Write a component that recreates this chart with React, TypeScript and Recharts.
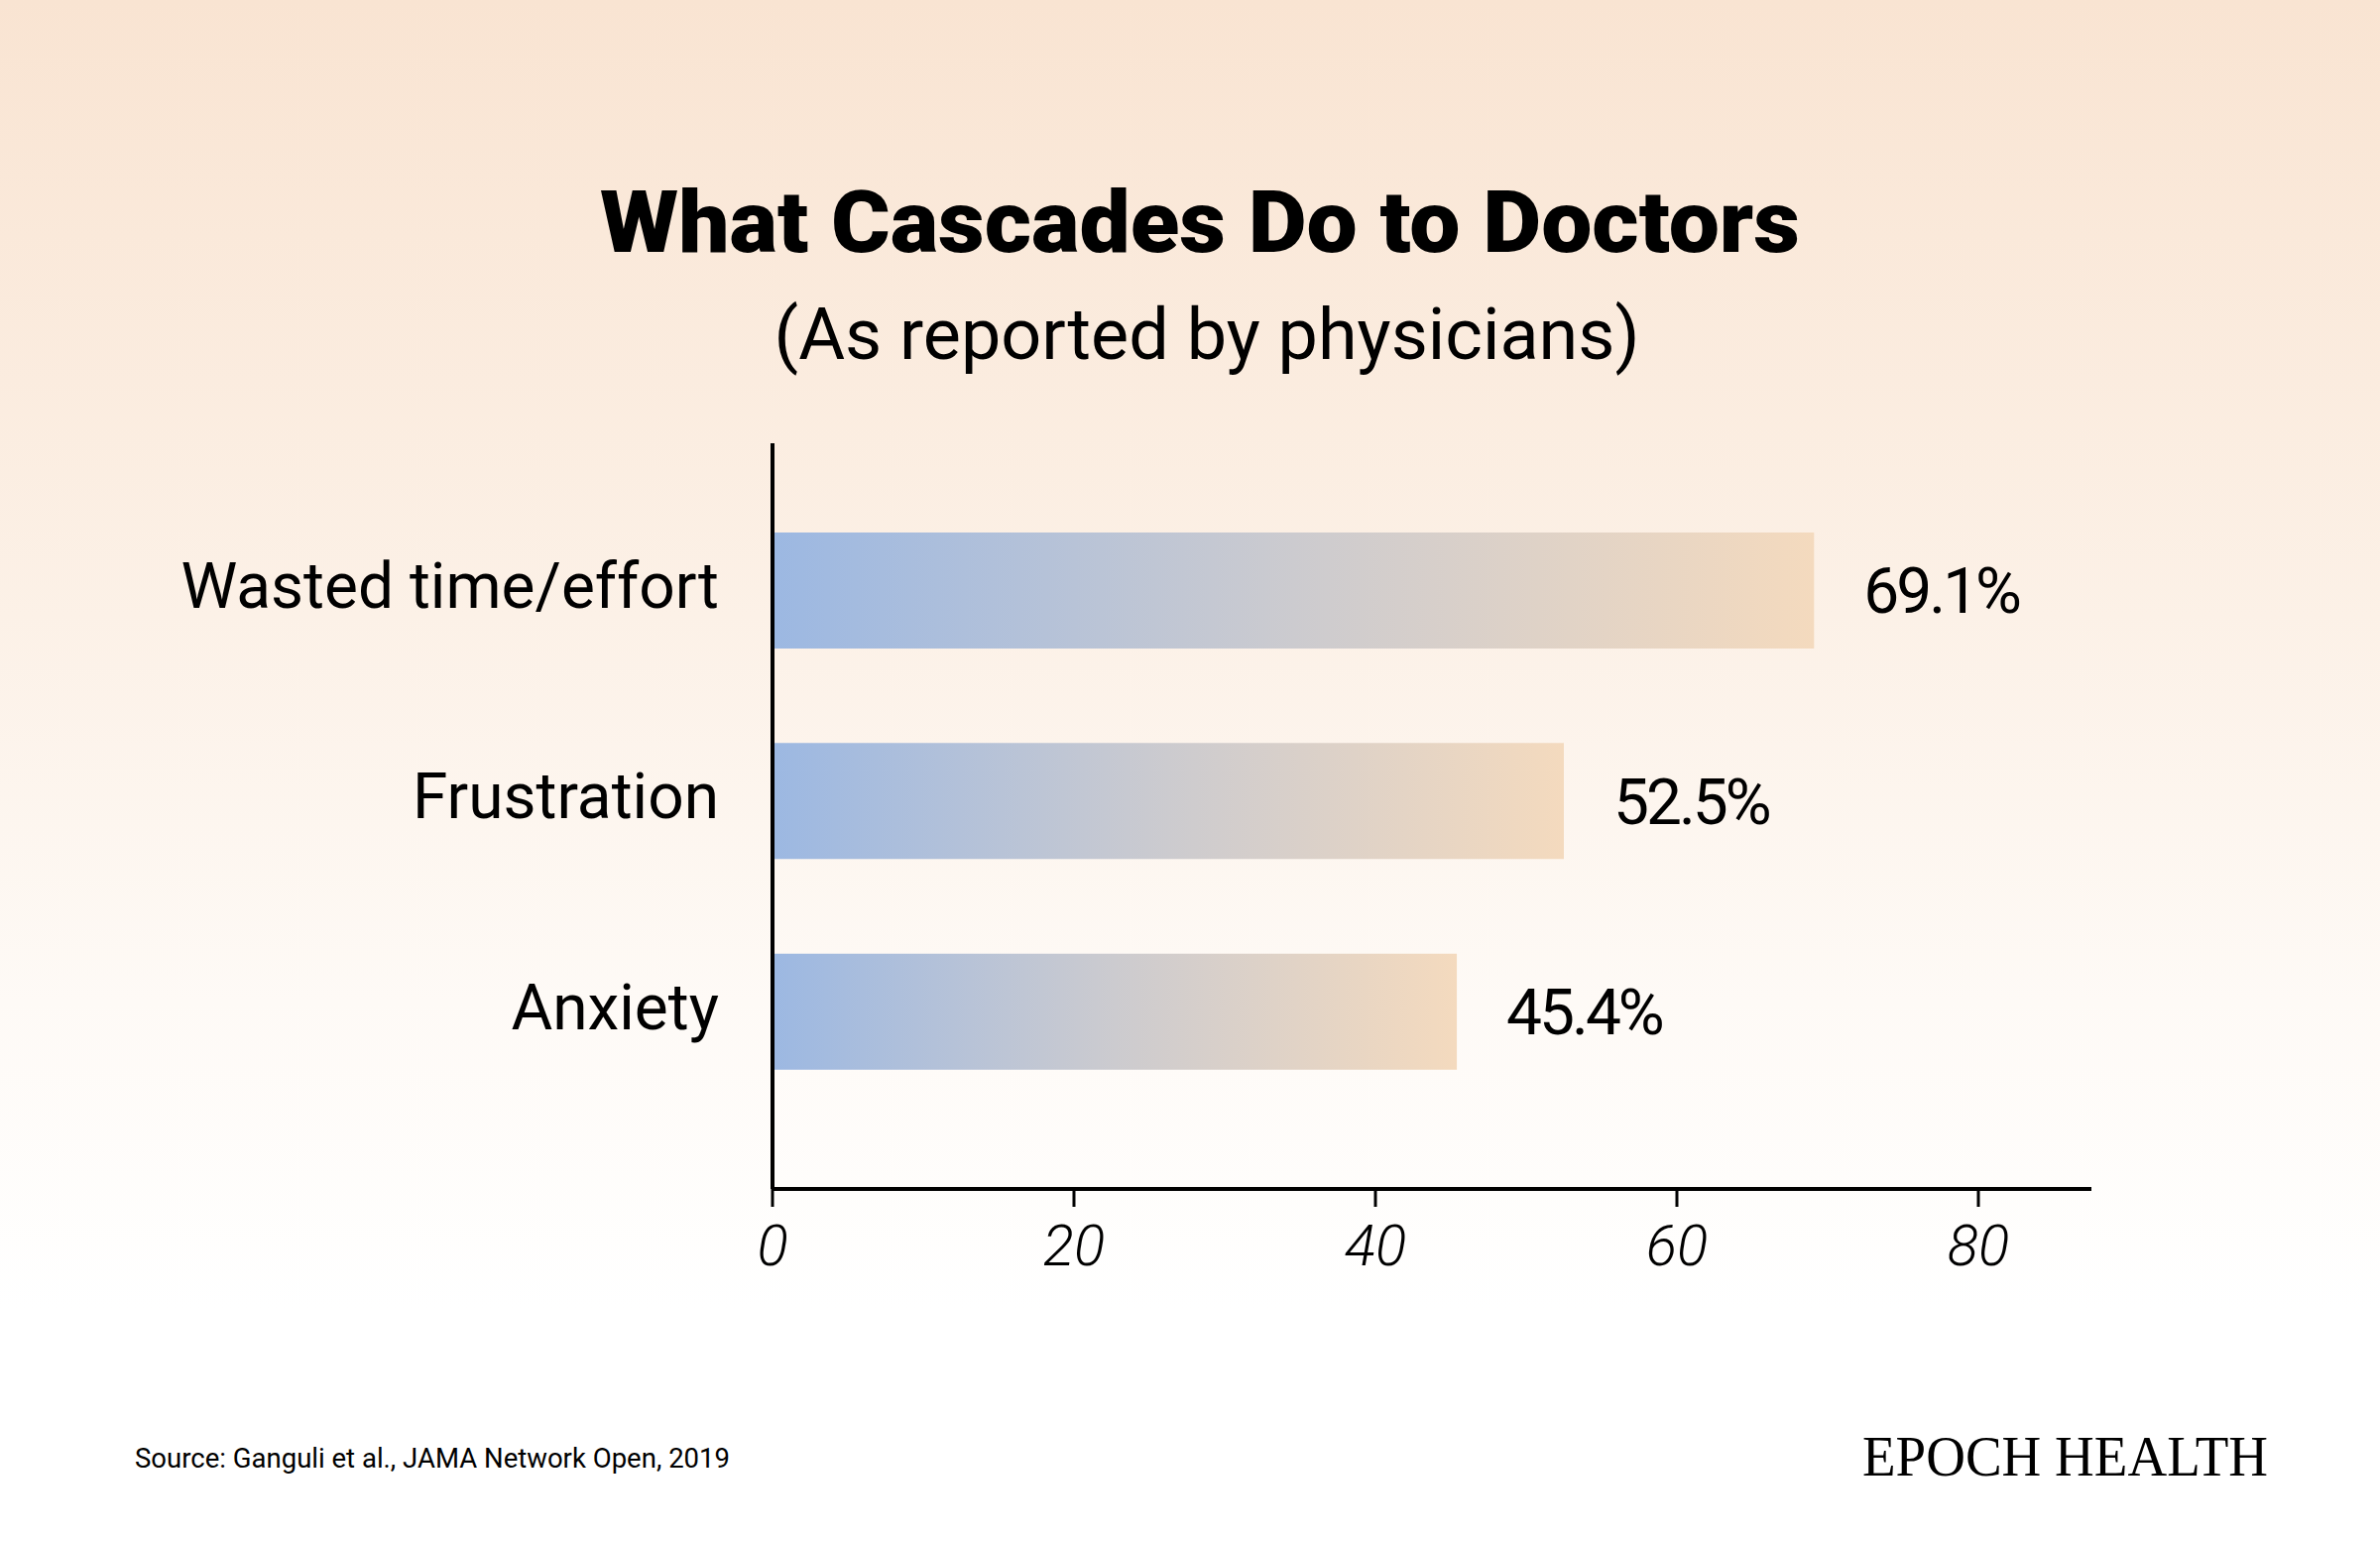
import React from 'react';
import { BarChart, Bar, XAxis, YAxis, LabelList } from 'recharts';

// share of physicians reporting each effect (%)
const categories = ['Wasted time/effort', 'Frustration', 'Anxiety'];
const shares = [69.1, 52.5, 45.4];
const xTicks = [0, 20, 40, 60, 80];

const data = categories.map((name, i) => ({ name, value: shares[i] }));

const WIDTH = 2400;
const HEIGHT = 1554;
const FONT = 'Roboto, "Noto Sans", sans-serif';

const App: React.FC = () => {
  return (
    <div
      style={{
        position: 'absolute',
        top: 0,
        left: 0,
        width: WIDTH,
        height: HEIGHT,
        background: 'linear-gradient(to bottom, #f9e4d2 0%, #fcf1e7 40%, #fefaf6 65%, #ffffff 85%)',
        overflow: 'hidden',
      }}
    >
      <BarChart
        layout="vertical"
        width={WIDTH}
        height={HEIGHT}
        data={data}
        margin={{ top: 447, right: 291, left: 0, bottom: 235 }}
      >
        <defs>
          <linearGradient id="barFade" x1="0" y1="0" x2="1" y2="0">
            <stop offset="0%" stopColor="#9cb8e2" />
            <stop offset="50%" stopColor="#cccbcf" />
            <stop offset="100%" stopColor="#f4dabe" />
          </linearGradient>
        </defs>
        <Bar dataKey="value" barSize={117} fill="url(#barFade)" isAnimationActive={false}>
          <LabelList
            dataKey="value"
            position="right"
            offset={50}
            formatter={(v: any) => `${v}%`}
            style={{ fill: '#000', fontSize: 64, fontFamily: FONT, letterSpacing: -3 }}
          />
        </Bar>
        <XAxis
          type="number"
          domain={[0, 87.5]}
          ticks={xTicks}
          allowDataOverflow
          height={120}
          tickSize={18}
          tickMargin={18}
          axisLine={{ stroke: '#000', strokeWidth: 4 }}
          tickLine={{ stroke: '#000', strokeWidth: 3 }}
          tick={{ fill: '#000', fontSize: 58, fontFamily: FONT, fontStyle: 'italic', fontWeight: 300 }}
        />
        <YAxis
          type="category"
          dataKey="name"
          width={779}
          interval={0}
          padding={{ top: 42, bottom: 73 }}
          tickSize={0}
          tickMargin={54}
          tickLine={false}
          axisLine={{ stroke: '#000', strokeWidth: 4 }}
          tick={{ fill: '#000', fontSize: 64, fontFamily: FONT, dy: -5 }}
        />
      </BarChart>

      <svg
        width={WIDTH}
        height={HEIGHT}
        style={{ position: 'absolute', top: 0, left: 0, pointerEvents: 'none' }}
      >
        <text
          x={1210}
          y={254}
          textAnchor="middle"
          fontFamily={FONT}
          fontWeight={900}
          fontSize={88}
          fill="#000"
          textLength={1210}
          lengthAdjust="spacingAndGlyphs"
        >
          What Cascades Do to Doctors
        </text>
        <text
          x={1217}
          y={362}
          textAnchor="middle"
          fontFamily={FONT}
          fontSize={73}
          fill="#000"
          textLength={873}
          lengthAdjust="spacingAndGlyphs"
        >
          (As reported by physicians)
        </text>
        <text
          x={136}
          y={1480}
          fontFamily={FONT}
          fontSize={28}
          fill="#000"
          textLength={600}
          lengthAdjust="spacingAndGlyphs"
        >
          Source: Ganguli et al., JAMA Network Open, 2019
        </text>
        <text
          x={1878}
          y={1488}
          fontFamily='"Liberation Serif", "DejaVu Serif", serif'
          fontSize={56}
          fill="#000"
          textLength={409}
          lengthAdjust="spacingAndGlyphs"
        >
          EPOCH HEALTH
        </text>
      </svg>
    </div>
  );
};

export default App;
